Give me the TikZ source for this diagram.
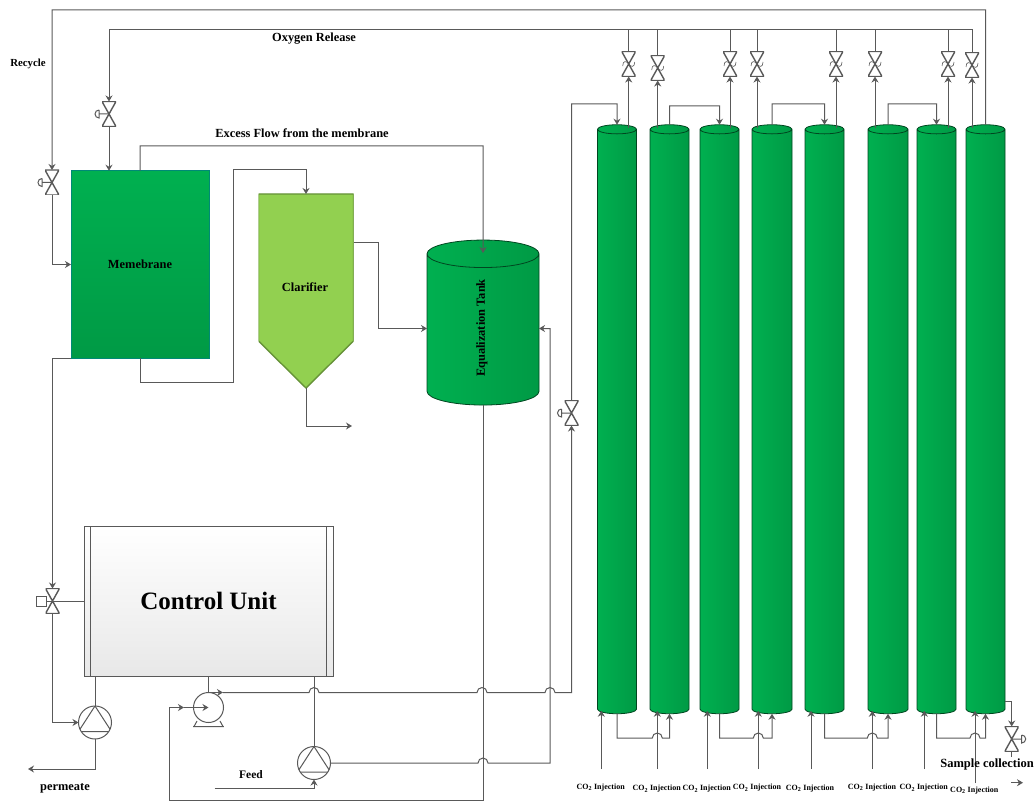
\documentclass[tikz,border=0pt]{standalone}
\usepackage{xcolor}
\usepackage{fontspec}
\setmainfont{Liberation Serif}
\usepackage{tikz}
\usetikzlibrary{shapes.geometric, arrows.meta, positioning, calc}

\definecolor{pipec}{HTML}{595959}
\definecolor{gtop}{HTML}{00B050}
\definecolor{gbot}{HTML}{009A45}
\definecolor{clgreen}{HTML}{92D050}

\newcommand{\hop}{arc[start angle=180, end angle=0, radius=5pt]}
\newcommand{\handleleft}[1]{\draw[pipe] (#1.center) -- ++(-10,0) ++(0,-4) -- ++(0,8) arc[start angle=270, end angle=90, radius=4pt];}
\newcommand{\handleright}[1]{\draw[pipe] (#1.center) -- ++(10,0) ++(0,-4) -- ++(0,8) arc[start angle=-90, end angle=90, radius=4pt];}

\tikzset{
  pipe/.style={draw=pipec, line width=1pt},
  tip/.style={-{Stealth[length=6pt, width=7pt]}},
  lbl/.style={font=\fontsize{12.4}{14}\selectfont\bfseries},
  colo/.style={font=\fontsize{8}{10}\selectfont\bfseries},
  column/.style={cylinder, shape border rotate=90, shape aspect=0.24, inner sep=19pt, draw=black!60!gtop, line width=0.8pt,
    left color=gtop, right color=gbot, minimum width=39, minimum height=589},
  valve/.style={minimum width=14, minimum height=25, fill=white, path picture={
    \draw[pipe, line width=1.4pt] (path picture bounding box.south west) -- (path picture bounding box.south east)
      -- (path picture bounding box.north west) -- (path picture bounding box.north east) -- cycle;}},
  butterfly/.style={valve, path picture={
    \draw[pipe, line width=1.4pt] (path picture bounding box.south west) -- (path picture bounding box.south east)
      -- (path picture bounding box.north west) -- (path picture bounding box.north east) -- cycle;
    \draw[pipe, line width=0.6pt, shift={(path picture bounding box.center)}] (-6,2) .. controls (-6,-4) and (-2,-3) .. (0,0)
      .. controls (2,3) and (6,4) .. (6,-2);}},
  pump/.style={circle, pipe, minimum size=33, fill=white},
  lobepump/.style={pump, path picture={
    \draw[pipe] (path picture bounding box.north) -- ([yshift=-9pt]path picture bounding box.east)
      -- ([yshift=-9pt]path picture bounding box.west) -- cycle;}},
}

\begin{document}
\begin{tikzpicture}[x=1pt, y=-1pt, inner sep=0pt, outer sep=0pt]
\useasboundingbox (0,0) rectangle (1036,802);

% process vessels
\node[pipe, draw=teal!80!gtop, top color=gtop, bottom color=gbot, minimum width=138, minimum height=187.5, lbl] (mem) at (140,264.5) {Memebrane};
\node[minimum width=95, minimum height=194, path picture={
  \filldraw[fill=clgreen, draw=black!30!clgreen, line width=1.4pt] (path picture bounding box.north west) -- (path picture bounding box.north east)
    -- ([yshift=47pt]path picture bounding box.south east) -- (path picture bounding box.south)
    -- ([yshift=47pt]path picture bounding box.south west) -- cycle;}] (cl) at (306,291) {};
\node[lbl] (cltext) at (305,287) {Clarifier};
\node[column, minimum width=112, minimum height=165, inner sep=55pt, shape aspect=0.25] (tank) at (483,336.5) {};
\node[lbl, rotate=90] (tanktext) at (482,328) {Equalization Tank};
\node[pipe, top color=white, bottom color=black!9, minimum width=249, minimum height=150, font=\fontsize{25}{30}\selectfont\bfseries] (cu) at (208.5,601) {Control Unit};
\draw[pipe] ([xshift=6.5pt]cu.north west) -- ([xshift=6.5pt]cu.south west);
\draw[pipe] ([xshift=-6.5pt]cu.north east) -- ([xshift=-6.5pt]cu.south east);

% columns
\node[column] (c1) at (617,424) {};
\node[column] (c2) at (669.5,424) {};
\node[column] (c3) at (719.5,424) {};
\node[column, minimum width=40] (c4) at (772,424) {};
\node[column] (c5) at (824.5,424) {};
\node[column, minimum width=40] (c6) at (888,424) {};
\node[column] (c7) at (936.5,424) {};
\node[column] (c8) at (985.5,424) {};

% valves
\node[valve] (vox) at (109,114) {};
\handleleft{vox}
\node[valve] (vrec) at (52,182.5) {};
\handleleft{vrec}
\node[valve] (vfd) at (571.5,413) {};
\handleleft{vfd}
\node[valve] (vctl) at (52.5,601) {};
\node[pipe, minimum size=10, fill=white] (act) at (41,601) {};
\node[valve] (vs) at (1011.7,739) {};
\handleright{vs}
\node[butterfly] (v1) at (628.7,64) {};
\node[butterfly] (v2) at (657.7,68) {};
\node[butterfly] (v3) at (730,64) {};
\node[butterfly] (v4) at (757,64) {};
\node[butterfly] (v5) at (836,64) {};
\node[butterfly] (v6) at (875,64) {};
\node[butterfly] (v7) at (948,64) {};
\node[butterfly] (v8) at (972,65) {};

% pumps
\node[lobepump] (p1) at (95,722.5) {};
\node[pump, minimum size=30] (p2) at (208.5,707.5) {};
\node[lobepump] (p3) at (314,763) {};
\draw[pipe] (197,721) -- (194,726.5) -- (223,726.5) -- (220,721);
\draw[pipe] (193,726.7) -- (224,726.7);

% free line ends
\coordinate (hdr) at (109,30);
\coordinate (perm) at (28,769);
\coordinate (feedin) at (214.5,788);
\coordinate (clout) at (352,426);
\coordinate (smp) at (1005,701);
\coordinate (smpo) at (1011.7,757);
\coordinate (sa) at (1011,782.7);
\coordinate (sb) at (1023,782.7);
\coordinate (in1) at (601.3,769);
\coordinate (in2) at (657.3,769);
\coordinate (in3) at (707.3,769);
\coordinate (in4) at (758.3,769);
\coordinate (in5) at (811,769);
\coordinate (in6) at (872.3,769);
\coordinate (in7) at (924.3,769);
\coordinate (in8) at (975,783);

% recycle and oxygen lines
\draw[pipe, tip] (c8.north) -- (985.5,10) -- (52,10) -- (vrec.north);
\draw[pipe, tip] (vrec.south) |- (mem.west);
\draw[pipe, tip] (v8.north) -- (972,30) -- (hdr) -- (vox.north);
\draw[pipe, tip] (vox.south) -- (vox.south |- mem.north);
\draw[pipe] (v1.north) -- (v1.north |- hdr);
\draw[pipe] (v2.north) -- (v2.north |- hdr);
\draw[pipe] (v3.north) -- (v3.north |- hdr);
\draw[pipe] (v4.north) -- (v4.north |- hdr);
\draw[pipe] (v5.north) -- (v5.north |- hdr);
\draw[pipe] (v6.north) -- (v6.north |- hdr);
\draw[pipe] (v7.north) -- (v7.north |- hdr);
\draw[pipe, tip] ([yshift=-3pt]v1.south |- c1.north) -- (v1.south);
\draw[pipe, tip] ([yshift=-3pt]v2.south |- c2.north) -- (v2.south);
\draw[pipe, tip] ([yshift=-3pt]v3.south |- c3.north) -- (v3.south);
\draw[pipe, tip] ([yshift=-3pt]v4.south |- c4.north) -- (v4.south);
\draw[pipe, tip] ([yshift=-3pt]v5.south |- c5.north) -- (v5.south);
\draw[pipe, tip] ([yshift=-3pt]v6.south |- c6.north) -- (v6.south);
\draw[pipe, tip] ([yshift=-3pt]v7.south |- c7.north) -- (v7.south);
\draw[pipe, tip] ([yshift=-3pt]v8.south |- c8.north) -- (v8.south);

% membrane, clarifier and tank
\draw[pipe, tip] (mem.north) -- (140,146) -- (483,146) -- ([yshift=-13pt]tank.north);
\draw[pipe, tip] (mem.south) -- (140,382) -- (233,382) -- (233,170) -- (306,170) -- (cl.north);
\draw[pipe, tip] ([yshift=48pt]cl.east) -- (378,243) -- (378,328.5) -- ([yshift=8pt]tank.west);
\draw[pipe, tip] (cl.south) |- (clout);
\draw[pipe, tip] (mem.south west) -| (vctl.north);
\draw[pipe] (vctl.center) -- (cu.west);
\draw[pipe] (act) -- (vctl.center);
\draw[pipe, tip] (vctl.south) |- (p1.west);
\draw[pipe] (p1.north |- cu.south) -- (p1.north);
\draw[pipe, tip] (p1.south) |- (perm);

% feed side
\draw[pipe] (p2.north |- cu.south) -- (p2.north);
\draw[pipe, tip] (p2.north) -- (223,692.5);
\draw[pipe, tip] (223,692.5) -- (309,692.5) \hop -- (477,692.5) \hop -- (545,692.5) \hop -- (571.5,692.5) -- (vfd.south);
\draw[pipe, tip] (vfd.north) -- (571.5,104) -- (617,104) -- (c1.north);
\draw[pipe, tip] (tank.south) -- (483,800) -- (169,800) -- (169,707.5) -- (184,707.5);
\draw[pipe, tip] (184,707.5) -- (p2.center);
\draw[pipe] (p3.north |- cu.south) -- (p3.north);
\draw[pipe, tip] (p3.east) -- (478,763) \hop -- (550,763) -- (550,328.5) -- ([yshift=8pt]tank.east);
\draw[pipe, tip] (feedin) -| (p3.south);

% links between columns
\draw[pipe, tip] (c2.north) -- (669.5,106) -- (719.5,106) -- (c3.north);
\draw[pipe, tip] (c4.north) -- (772,104) -- (824.5,104) -- (c5.north);
\draw[pipe, tip] (c6.north) -- (888,104) -- (936.5,104) -- (c7.north);
\draw[pipe, tip] (c1.south) -- (617,738) -- (652.3,738) \hop -- (669.5,738) -- (c2.south);
\draw[pipe, tip] (c3.south) -- (719.5,738) -- (753.3,738) \hop -- (772,738) -- (c4.south);
\draw[pipe, tip] (c5.south) -- (824.5,738) -- (867.3,738) \hop -- (888,738) -- (c6.south);
\draw[pipe, tip] (c7.south) -- (936.5,738) -- (970,738) \hop -- (985.5,738) -- (c8.south);

% injections
\draw[pipe, tip] (in1) -- ([yshift=3pt]in1 |- c1.south);
\draw[pipe, tip] (in2) -- ([yshift=3pt]in2 |- c2.south);
\draw[pipe, tip] (in3) -- ([yshift=3pt]in3 |- c3.south);
\draw[pipe, tip] (in4) -- ([yshift=3pt]in4 |- c4.south);
\draw[pipe, tip] (in5) -- ([yshift=3pt]in5 |- c5.south);
\draw[pipe, tip] (in6) -- ([yshift=3pt]in6 |- c6.south);
\draw[pipe, tip] (in7) -- ([yshift=3pt]in7 |- c7.south);
\draw[pipe, tip] (in8) -- ([yshift=3pt]in8 |- c8.south);

% sample line
\draw[pipe, tip] (smp) -| (vs.north);
\draw[pipe] (vs.south) -- (smpo);
\draw[pipe, tip] (sa) -- (sb);

% labels
\node[font=\fontsize{10.8}{13}\selectfont\bfseries] (trec) at (28,64) {Recycle};
\node[lbl] (toxy) at (314,39) {Oxygen Release};
\node[lbl] (texc) at (302,133) {Excess Flow from the membrane};
\node[font=\fontsize{12.4}{14}\selectfont\bfseries] (tperm) at (65,788) {permeate};
\node[font=\fontsize{11.5}{14}\selectfont\bfseries] (tfeed) at (251,775) {Feed};
\node[font=\fontsize{12.5}{14}\selectfont\bfseries] (tsmp) at (987,764) {Sample collection};
\node[colo] (t1) at (600.7,787.7) {CO\textsubscript{2} Injection};
\node[colo] (t2) at (656.7,789) {CO\textsubscript{2} Injection};
\node[colo] (t3) at (706.7,789) {CO\textsubscript{2} Injection};
\node[colo] (t4) at (757,788) {CO\textsubscript{2} Injection};
\node[colo] (t5) at (810,788.7) {CO\textsubscript{2} Injection};
\node[colo] (t6) at (872,787.7) {CO\textsubscript{2} Injection};
\node[colo] (t7) at (923.7,788) {CO\textsubscript{2} Injection};
\node[colo] (t8) at (974.3,790.5) {CO\textsubscript{2} Injection};
\end{tikzpicture}
\end{document}
